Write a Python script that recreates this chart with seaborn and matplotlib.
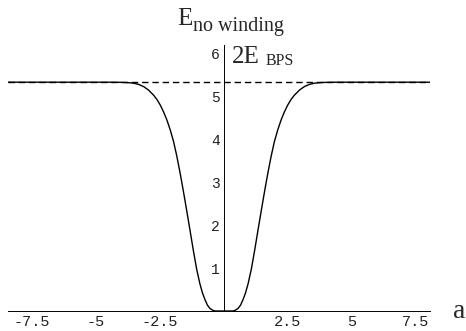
"""
Energy of the no-winding configuration versus a, compared with 2 E_BPS.
Recreated with seaborn / matplotlib.
"""

from matplotlib import pyplot as plt
from matplotlib.ticker import MultipleLocator
import numpy as np
import pandas as pd
import seaborn as sns

#############################################################

# Values (right half; the curve is symmetric in a).
a_right = [0.0, 0.2, 0.35, 0.45, 0.55, 0.65, 0.74, 0.84, 0.94, 1.07, 1.2, 1.33, 1.46,
           1.52, 1.61, 1.71, 1.84, 1.97, 2.1, 2.23, 2.36, 2.49, 2.62, 2.75, 2.95,
           3.14, 3.33, 3.53, 3.8, 4.05, 4.5, 5.0, 6.0, 7.0, 8.5]
e_right = [0.0, 0.0, 0.0, 0.02, 0.06, 0.14, 0.26, 0.42, 0.63, 0.98, 1.42, 1.89, 2.35,
           2.56, 2.87, 3.2, 3.6, 3.95, 4.22, 4.45, 4.64, 4.80, 4.93, 5.03, 5.15,
           5.23, 5.28, 5.31, 5.325, 5.33, 5.333, 5.333, 5.333, 5.333, 5.333]
two_e_bps = 5.333

x_ticks = [-7.5, -5, -2.5, 2.5, 5, 7.5]
x_tick_labels = ["-7.5", "-5", "-2.5", "2.5", "5", "7.5"]
y_ticks = [1, 2, 3, 4, 5, 6]
y_tick_labels = ["1", "2", "3", "4", "5", "6"]

#############################################################

sns.set_style("white")
plt.rcParams['axes.unicode_minus'] = False

# Mirror the read values to get the full curve.
curve = pd.DataFrame({
    "a": [-v for v in a_right[::-1]] + a_right[1:],
    "E": e_right[::-1] + e_right[1:],
})

fig = plt.figure(figsize=(4.66, 3.31), dpi=100)
ax = fig.add_axes([8 / 466, 20 / 331, 422 / 466, 266 / 331])

sns.lineplot(data=curve, x="a", y="E", ax=ax, color="black", linewidth=1.0,
             sort=False, estimator=None)
ax.axhline(two_e_bps, color="black", linewidth=1.0, dashes=(4.6, 2.8))

ax.set_xlim(-8.44, 8.05)
ax.set_ylim(0, 6.2)
ax.set_xlabel("")
ax.set_ylabel("")

# Mathematica style axes crossing at the origin.
for side in ["top", "right"]:
    ax.spines[side].set_visible(False)
ax.spines["left"].set_position(("data", 0))
ax.spines["bottom"].set_position(("data", 0))
for side in ["left", "bottom"]:
    ax.spines[side].set_linewidth(0.7)
    ax.spines[side].set_color("black")

ax.set_xticks(x_ticks)
ax.set_xticklabels(x_tick_labels)
ax.set_yticks(y_ticks)
ax.set_yticklabels(y_tick_labels)
ax.xaxis.set_minor_locator(MultipleLocator(0.5))
ax.yaxis.set_minor_locator(MultipleLocator(0.2))
ax.tick_params(which="both", direction="in", color="black", width=0.6)
ax.tick_params(which="major", length=3.6)
ax.tick_params(which="minor", length=1.8)
ax.tick_params(axis="x", which="major", pad=3)
ax.tick_params(axis="y", which="major", pad=3)
for lbl in ax.get_xticklabels():
    lbl.set_family("Liberation Mono")
    lbl.set_fontsize(11)
    lbl.set_color("#222222")
for lbl in ax.get_yticklabels():
    lbl.set_family("Liberation Mono")
    lbl.set_fontsize(10.5)
    lbl.set_color("#222222")

# Axis labels, placed like the original.
serif = "Liberation Serif"
fig.text(177 / 466, 1 - 25 / 331, "E", family=serif, fontsize=18, va="baseline")
fig.text(193 / 466, 1 - 31 / 331, "no winding", family=serif, fontsize=14.5, va="baseline")
fig.text(232 / 466, 1 - 63 / 331, "2E", family=serif, fontsize=18, va="baseline")
fig.text(266 / 466, 1 - 65 / 331, "BPS", family=serif, fontsize=11.5, va="baseline")
fig.text(453 / 466, 1 - 318 / 331, "a", family=serif, fontsize=20, va="baseline")

plt.savefig("out.png", dpi=100)
